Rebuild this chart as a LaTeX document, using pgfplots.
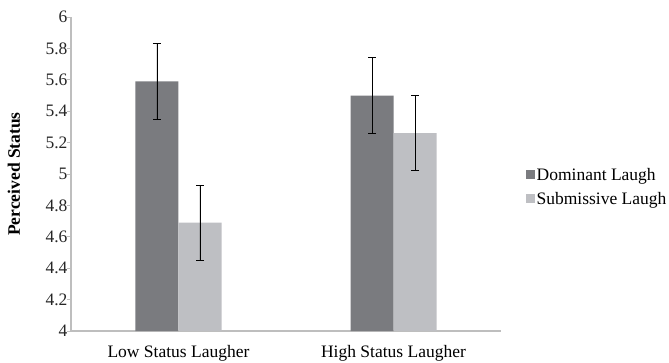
\documentclass[border=0pt]{standalone}
\usepackage{pgfplots}
\pgfplotsset{compat=1.18}
\usepackage{fontspec}
\setmainfont{Liberation Serif}
\definecolor{darkbar}{RGB}{122,123,127}
\definecolor{lightbar}{RGB}{190,191,195}
\definecolor{axisgray}{RGB}{190,190,190}
\begin{document}
\begin{tikzpicture}[font=\fontsize{17.5}{21}\selectfont]
\begin{axis}[
  scale only axis,
  width=430pt, height=314pt,
  xmin=-0.5, xmax=1.5,
  ymin=4, ymax=6,
  ytick={4,4.2,...,6.01},
  xtick={0,1},
  xticklabels={Low Status Laugher, High Status Laugher},
  major x tick style={draw=none},
  y tick style={axisgray, line width=0.8pt},
  tick align=outside,
  major tick length=4pt,
  axis x line*=bottom,
  axis y line*=left,
  axis line style={axisgray, line width=1.2pt, -},
  /pgf/number format/assume math mode=true,
  yticklabel={\pgfmathprintnumber[fixed,precision=1]{\tick}},
  yticklabel style={color=black!85, xshift=4pt},
  xticklabel style={color=black, yshift=-7pt},
  every axis y label/.style={at={(axis description cs:-0.1326,0.5)}, rotate=90, anchor=center},
  ylabel={\textbf{Perceived Status}},
  ybar,
  bar width=43pt,
  legend style={at={(rel axis cs:1.058,0.459)}, anchor=west, draw=none, fill=none,
    legend cell align=left, row sep=8pt, inner sep=0pt, nodes={inner sep=1.2pt}},
  legend image code/.code={\fill[#1] (0pt,-4.6pt) rectangle (9.3pt,4.6pt);},
]
\addplot[draw=none, fill=darkbar, bar shift=-21.5pt,
  error bars/.cd, y dir=both, y explicit,
  error bar style={black, line width=0.8pt},
  error mark options={rotate=90, mark size=4pt, black, line width=0.8pt}]
  coordinates {(0,5.59) +- (0,0.24) (1,5.50) +- (0,0.24)};
\addlegendentry{Dominant Laugh}
\addplot[draw=none, fill=lightbar, bar shift=21.5pt,
  error bars/.cd, y dir=both, y explicit,
  error bar style={black, line width=0.8pt},
  error mark options={rotate=90, mark size=4pt, black, line width=0.8pt}]
  coordinates {(0,4.69) +- (0,0.24) (1,5.26) +- (0,0.24)};
\addlegendentry{Submissive Laugh}
\end{axis}
\pgfresetboundingbox
\path (current axis.south west) ++(-71pt,-31pt) rectangle ++(669pt,362pt);
\end{tikzpicture}
\end{document}
